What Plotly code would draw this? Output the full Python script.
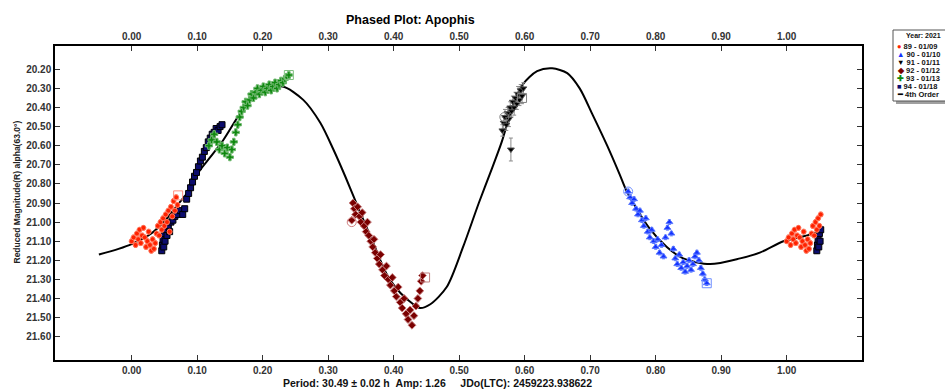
import plotly.graph_objects as go

# ---------------- data ----------------
s89_phase = [0.000, 0.003, 0.006, 0.008, 0.010, 0.012, 0.014, 0.016, 0.018, 0.020, 0.022, 0.024,
             0.026, 0.028, 0.030, 0.032, 0.034, 0.036, 0.038, 0.040, 0.042, 0.044, 0.046, 0.048,
             0.050, 0.052, 0.054, 0.056, 0.058, 0.060, 0.062, 0.064, 0.066, 0.068, 0.070]
s89_mag = [21.10, 21.08, 21.12, 21.06, 21.09, 21.04, 21.11, 21.07, 21.03, 21.08, 21.13, 21.10,
           21.05, 21.12, 21.15, 21.09, 21.14, 21.11, 21.06, 21.02, 21.07, 21.00, 21.04, 20.98,
           21.02, 20.96, 21.00, 20.94, 21.05, 20.92, 20.97, 20.89, 20.94, 20.87, 20.91]

s90_phase = [0.758, 0.761, 0.764, 0.767, 0.770, 0.773, 0.776, 0.779, 0.782, 0.785, 0.788, 0.791,
             0.794, 0.797, 0.800, 0.803, 0.806, 0.809, 0.812, 0.815, 0.818, 0.821, 0.824, 0.827,
             0.830, 0.833, 0.836, 0.839, 0.842, 0.845, 0.848, 0.851, 0.854, 0.857, 0.860, 0.863,
             0.866, 0.869, 0.872, 0.875, 0.878]
s90_mag = [20.84, 20.87, 20.90, 20.88, 20.93, 20.96, 20.94, 20.99, 21.02, 20.98, 21.05, 21.08,
           21.04, 21.10, 21.13, 21.09, 21.16, 21.12, 21.18, 21.08, 21.03, 21.00, 21.06, 21.14,
           21.19, 21.22, 21.17, 21.24, 21.21, 21.26, 21.23, 21.20, 21.25, 21.22, 21.18, 21.16,
           21.20, 21.24, 21.27, 21.30, 21.32]

s91_phase = [0.566, 0.568, 0.570, 0.572, 0.574, 0.576, 0.578, 0.579, 0.580, 0.582, 0.584, 0.586,
             0.588, 0.590, 0.592, 0.594, 0.596, 0.598]
s91_mag = [20.52, 20.48, 20.45, 20.49, 20.43, 20.46, 20.40, 20.62, 20.42, 20.37, 20.40, 20.35,
           20.38, 20.33, 20.36, 20.31, 20.34, 20.30]
s91_err = [0.03, 0.03, 0.04, 0.03, 0.03, 0.04, 0.03, 0.06, 0.03, 0.03, 0.04, 0.03,
           0.03, 0.04, 0.03, 0.03, 0.04, 0.03]

s92_phase = [0.336, 0.338, 0.340, 0.342, 0.345, 0.348, 0.350, 0.352, 0.355, 0.358, 0.360, 0.362,
             0.365, 0.368, 0.370, 0.372, 0.375, 0.378, 0.380, 0.383, 0.386, 0.389, 0.392, 0.395,
             0.398, 0.401, 0.404, 0.407, 0.410, 0.413, 0.416, 0.419, 0.422, 0.425, 0.428, 0.431,
             0.434, 0.437, 0.440, 0.442, 0.444]
s92_mag = [20.99, 20.90, 20.93, 20.96, 20.92, 20.97, 21.00, 20.95, 21.02, 21.05, 21.00, 21.07,
           21.10, 21.13, 21.09, 21.16, 21.19, 21.22, 21.17, 21.25, 21.28, 21.23, 21.30, 21.33,
           21.29, 21.36, 21.39, 21.34, 21.42, 21.45, 21.40, 21.48, 21.51, 21.46, 21.54, 21.49,
           21.44, 21.40, 21.36, 21.31, 21.28]

s93_phase = [0.118, 0.122, 0.126, 0.130, 0.134, 0.138, 0.142, 0.146, 0.150, 0.153, 0.156, 0.159,
             0.162, 0.165, 0.168, 0.171, 0.174, 0.177, 0.180, 0.183, 0.186, 0.189, 0.192, 0.195,
             0.198, 0.201, 0.204, 0.207, 0.210, 0.213, 0.216, 0.219, 0.222, 0.225, 0.228, 0.231,
             0.234, 0.237, 0.240]
s93_mag = [20.60, 20.57, 20.54, 20.58, 20.62, 20.60, 20.64, 20.61, 20.66, 20.62, 20.58, 20.53,
           20.49, 20.45, 20.42, 20.40, 20.37, 20.39, 20.36, 20.33, 20.35, 20.32, 20.30, 20.33,
           20.31, 20.29, 20.32, 20.30, 20.28, 20.31, 20.29, 20.27, 20.30, 20.28, 20.26, 20.27,
           20.25, 20.24, 20.23]

s94_phase = [0.046, 0.047, 0.048, 0.049, 0.050, 0.051, 0.052, 0.054, 0.056, 0.058, 0.060, 0.063,
             0.066, 0.070, 0.074, 0.078, 0.081, 0.084, 0.087, 0.090, 0.093, 0.096, 0.099, 0.102,
             0.105, 0.108, 0.111, 0.114, 0.117, 0.120, 0.123, 0.126, 0.129, 0.132, 0.135, 0.138]
s94_mag = [21.15, 21.12, 21.09, 21.13, 21.06, 21.10, 21.04, 21.07, 21.02, 21.05, 21.00, 20.99,
           20.97, 20.96, 20.94, 20.96, 20.93, 20.88, 20.85, 20.82, 20.79, 20.76, 20.74, 20.71,
           20.68, 20.66, 20.63, 20.61, 20.58, 20.56, 20.54, 20.53, 20.51, 20.52, 20.50, 20.49]

# first / last points of sessions (open markers)
first_phase = [0.336, 0.569, 0.758]
first_mag = [21.00, 20.45, 20.84]
first_col = ["#d08080", "#808080", "#6f8fff"]
last_phase = [0.071, 0.448, 0.596, 0.878, 0.240]
last_mag = [20.86, 21.29, 20.35, 21.32, 20.23]
last_col = ["#ff9080", "#c08080", "#808080", "#6f8fff", "#80c080"]

# 4th order Fourier fit
fit_phase = [-0.05, -0.02, 0.00, 0.03, 0.054, 0.07, 0.089, 0.104, 0.12, 0.14, 0.17, 0.196, 0.23,
             0.262, 0.288, 0.308, 0.326, 0.349, 0.369, 0.389, 0.41, 0.43, 0.44, 0.456, 0.481,
             0.506, 0.53, 0.55, 0.565, 0.582, 0.597, 0.619, 0.642, 0.665, 0.684, 0.704, 0.726,
             0.745, 0.756, 0.79, 0.817, 0.842, 0.883, 0.929, 0.959, 0.995, 1.02, 1.05]
fit_mag = [21.17, 21.14, 21.115, 21.06, 20.98, 20.91, 20.83, 20.73, 20.66, 20.57, 20.41, 20.32,
           20.29, 20.36, 20.48, 20.62, 20.76, 20.95, 21.11, 21.27, 21.37, 21.43, 21.45, 21.43,
           21.34, 21.13, 20.90, 20.72, 20.58, 20.39, 20.28, 20.21, 20.195, 20.22, 20.30, 20.44,
           20.60, 20.75, 20.84, 21.03, 21.13, 21.19, 21.22, 21.19, 21.16, 21.10, 21.08, 21.05]

x_ticks = [0.0, 0.1, 0.2, 0.3, 0.4, 0.5, 0.6, 0.7, 0.8, 0.9, 1.0]
y_ticks = [20.2, 20.3, 20.4, 20.5, 20.6, 20.7, 20.8, 20.9, 21.0, 21.1, 21.2, 21.3, 21.4, 21.5, 21.6]

legend_title = "Year: 2021"
legend_labels = ["89 - 01/09", "90 - 01/10", "91 - 01/11", "92 - 01/12", "93 - 01/13", "94 - 01/18",
                 "4th Order"]

# ---------------- layout helpers ----------------
W, H = 945, 391
L, R, T, B = 55, 862, 46, 360


def px(x):
    return (x - L) / (R - L)


def py(y):
    return (B - y) / (B - T)


def wrap(ph, mg, lim=0.052):
    p2 = list(ph) + [p + 1 for p in ph if p <= lim]
    m2 = list(mg) + [m for p, m in zip(ph, mg) if p <= lim]
    return p2, m2


fig = go.Figure()

fig.add_trace(go.Scatter(x=fit_phase, y=fit_mag, mode="lines",
                         line=dict(color="black", width=2, shape="spline", smoothing=0.8),
                         hoverinfo="skip"))

p89, m89 = wrap(s89_phase, s89_mag)
p94, m94 = wrap(s94_phase, s94_mag)


def add_series(ph, mg, symbol, color, edge, size=5, err=None, errcol=None):
    fig.add_trace(go.Scatter(
        x=ph, y=mg, mode="markers",
        marker=dict(symbol=symbol, size=size, color=color, line=dict(color=edge, width=1)),
        error_y=dict(type="data", array=err, color=errcol, thickness=1, width=2) if err else
        dict(type="constant", value=0.012, color=errcol or edge, thickness=1, width=1.5),
    ))


add_series(p94, m94, "square", "#0c0c6e", "#000000", size=6)
add_series(p89, m89, "circle", "#ff2200", "#ff7a60", size=5)
add_series(s93_phase, s93_mag, "cross", "#0e880e", "#70b870", size=6)
add_series(s92_phase, s92_mag, "diamond", "#7a0000", "#c88080", size=6)
add_series(s91_phase, s91_mag, "triangle-down", "#000000", "#505050", size=6, err=s91_err, errcol="#8a8a8a")
add_series(s90_phase, s90_mag, "triangle-up", "#1432ff", "#5a78ff", size=6)

fig.add_trace(go.Scatter(x=first_phase, y=first_mag, mode="markers",
                         marker=dict(symbol="circle-open", size=9, color=first_col, line=dict(width=1))))
fig.add_trace(go.Scatter(x=last_phase, y=last_mag, mode="markers",
                         marker=dict(symbol="square-open", size=9, color=last_col, line=dict(width=1))))

# invisible trace on the top axis
fig.add_trace(go.Scatter(x=[0.5], y=[20.9], xaxis="x2", mode="markers", marker=dict(opacity=0),
                         hoverinfo="skip"))

xr = [-0.117, 1.115]
tickfont = dict(family="Liberation Sans, Arial", size=10, color="#333333", weight="bold")
axis_common = dict(showgrid=False, zeroline=False, showline=True, linecolor="black", linewidth=1.5,
                   ticks="inside", ticklen=5, tickwidth=1, tickcolor="#333333", tickfont=tickfont,
                   automargin=False)

fig.update_layout(
    width=W, height=H,
    margin=dict(l=L, r=W - R, t=T, b=H - B, pad=0, autoexpand=False),
    paper_bgcolor="white", plot_bgcolor="white",
    showlegend=False,
    xaxis=dict(range=xr, tickvals=x_ticks, tickformat=".2f", mirror=True, **axis_common),
    xaxis2=dict(range=xr, tickvals=x_ticks, tickformat=".2f", overlaying="x", side="top", **axis_common),
    yaxis=dict(range=[21.722, 20.078], tickvals=y_ticks, tickformat=".2f", mirror="ticks", **axis_common),
)

fig.add_annotation(x=px(410), y=py(20), xref="paper", yref="paper", text="<b>Phased Plot: Apophis</b>",
                   showarrow=False, xanchor="center", yanchor="middle",
                   font=dict(family="Liberation Sans, Arial", size=12.5, color="black"))

fig.add_annotation(x=px(437), y=py(383), xref="paper", yref="paper",
                   text="<b>Period: 30.49 ± 0.02 h\u00a0\u00a0Amp: 1.26\u00a0\u00a0\u00a0\u00a0\u00a0JDo(LTC): 2459223.938622</b>",
                   showarrow=False, xanchor="center", yanchor="middle",
                   font=dict(family="Liberation Sans, Arial", size=10.5, color="#111111"))

fig.add_annotation(x=px(16.5), y=py(192), xref="paper", yref="paper",
                   text="<b>Reduced Magnitude(R) alpha(63.0°)</b>", textangle=-90,
                   showarrow=False, xanchor="center", yanchor="middle",
                   font=dict(family="Liberation Sans, Arial", size=8.5, color="#222222"))

# legend box (drawn as shapes + text lines)
legend_syms = ["●", "▲", "▼", "◆", "✚", "■", "━"]
legend_cols = ["#ff2200", "#1432ff", "#000000", "#7a0000", "#0e880e", "#0c0c6e", "#000000"]
legend_y = [46, 54, 62.3, 70.3, 78.7, 86.7, 94.7]

fig.add_shape(type="rect", xref="paper", yref="paper", x0=px(896), x1=px(1000), y0=py(104), y1=py(33),
              fillcolor="#a0a0a0", line=dict(width=0), layer="above")
fig.add_shape(type="rect", xref="paper", yref="paper", x0=px(893), x1=px(1000), y0=py(101), y1=py(30),
              fillcolor="white", line=dict(color="#555555", width=1), layer="above")
fig.add_annotation(x=px(904), y=py(35.5), xref="paper", yref="paper", text=f"<b>{legend_title}</b>",
                   showarrow=False, xanchor="left", yanchor="middle",
                   font=dict(family="Liberation Sans, Arial", size=7, color="#111111"))
for lab, sym, col, yy in zip(legend_labels, legend_syms, legend_cols, legend_y):
    fig.add_annotation(x=px(895), y=py(yy), xref="paper", yref="paper",
                       text=f"<b><span style='color:{col}'>{sym}</span> {lab}</b>",
                       showarrow=False, xanchor="left", yanchor="middle",
                       font=dict(family="Liberation Sans, Arial", size=7.5, color="#111111"))

fig.write_html("out.html", config={"displayModeBar": False},
               post_script="document.body.style.margin='0';document.body.style.overflow='hidden';")
